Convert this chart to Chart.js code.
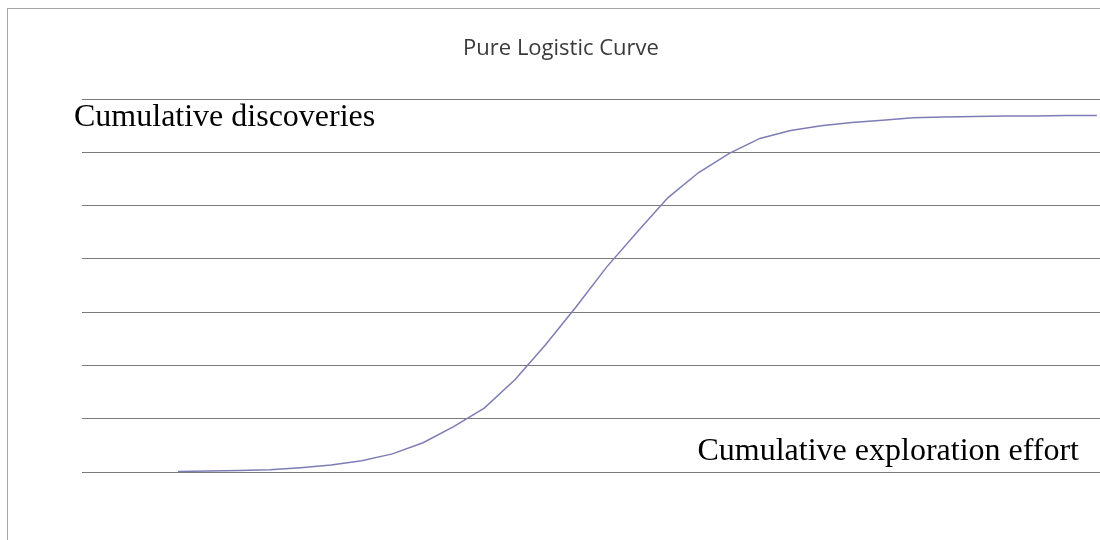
<!DOCTYPE html>
<html>
<head>
<meta charset="utf-8">
<script src="https://cdn.jsdelivr.net/npm/chart.js@4"></script>
<style>
  body { margin: 0; background: #fff; overflow: hidden; }
  #box {
    position: absolute; left: 7px; top: 8px;
    width: 1106px; height: 540px;
    border-left: 1px solid #a6a6a6; border-top: 1px solid #a6a6a6;
  }
</style>
</head>
<body>
<div id="box"><canvas id="chart" width="1106" height="531"></canvas></div>
<script>
// cumulative exploration effort (steps) and cumulative discoveries
var effort = [0, 1, 2, 3, 4, 5, 6, 7, 8, 9, 10, 11, 12, 13, 14, 15, 16, 17, 18, 19, 20,
  21, 22, 23, 24, 25, 26, 27, 28, 29, 30];
var discoveries = [1, 2, 3, 4, 8, 13, 21, 34, 55, 85, 120, 173, 239, 310, 385, 451, 515, 562,
  598, 626, 641, 650, 656, 660, 665, 666, 667, 668, 668, 669, 669];
var yTicks = [0, 100, 200, 300, 400, 500, 600, 700];

var chartTitle = 'Pure Logistic Curve';
var yLabel = 'Cumulative discoveries';
var xLabel = 'Cumulative exploration effort';

var points = effort.map(function (e, i) { return { x: e, y: discoveries[i] }; });

// the two text boxes inside the plot
var labelsPlugin = {
  id: 'plotLabels',
  afterDraw: function (chart) {
    var c = chart.ctx, a = chart.chartArea;
    c.save();
    c.fillStyle = '#000';
    c.font = '32px "Times New Roman", "Liberation Serif", serif';
    c.textBaseline = 'alphabetic';
    c.textAlign = 'left';
    c.fillText(yLabel, a.left - 8, a.top + 27);
    c.textAlign = 'right';
    c.fillText(xLabel, a.left + 997, a.bottom - 12);
    c.restore();
  }
};

var chart = new Chart(document.getElementById('chart'), {
  type: 'line',
  data: {
    datasets: [{
      data: points,
      borderColor: '#7d7db5',
      borderWidth: 1.5,
      pointRadius: 0,
      tension: 0,
      fill: false
    }]
  },
  options: {
    responsive: false,
    animation: false,
    layout: { padding: { left: 0, right: 0, top: 0, bottom: 68 } },
    plugins: {
      legend: { display: false },
      tooltip: { enabled: false },
      title: {
        display: true,
        text: chartTitle,
        color: '#3a3a3a',
        font: { family: '"Open Sans"', size: 22, weight: 'normal' },
        padding: { top: 27, bottom: 36.6 }
      }
    },
    scales: {
      x: {
        type: 'linear',
        display: false,
        min: -3.134,
        max: 30.56
      },
      y: {
        min: 0,
        max: 700,
        afterBuildTicks: function (axis) {
          axis.ticks = yTicks.map(function (v) { return { value: v }; });
        },
        afterFit: function (axis) { axis.width = 74; },
        ticks: { display: false },
        border: { display: false },
        grid: { color: '#7a7a7a', lineWidth: 1, drawTicks: false }
      }
    }
  },
  plugins: [labelsPlugin]
});
</script>
</body>
</html>
